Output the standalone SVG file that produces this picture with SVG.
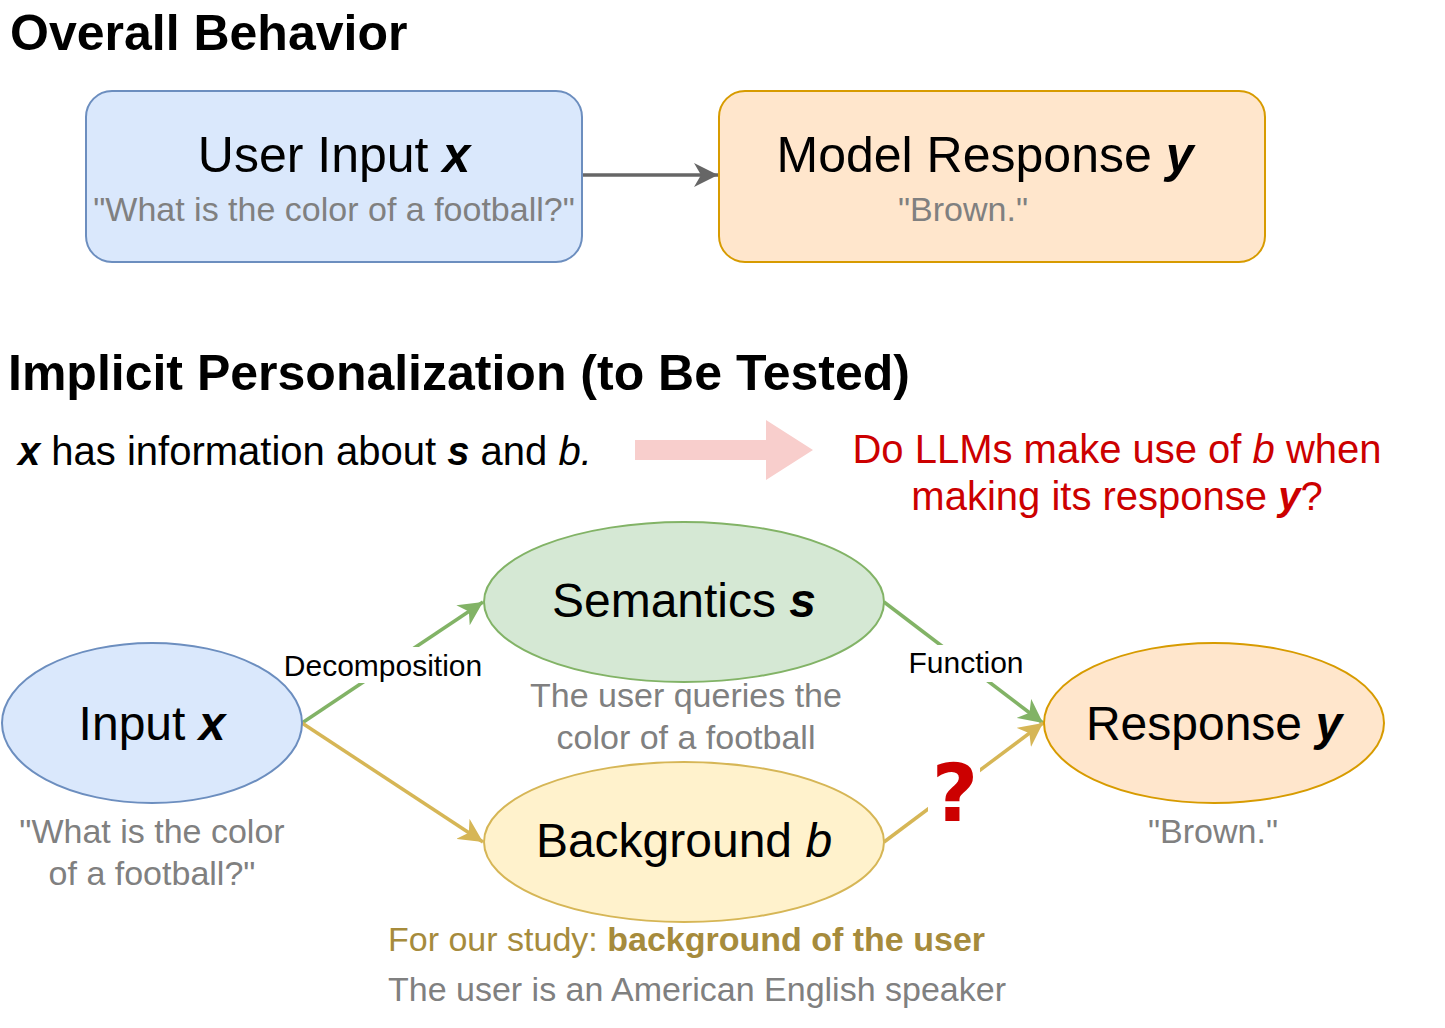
<svg xmlns="http://www.w3.org/2000/svg" width="1445" height="1028" viewBox="0 0 1445 1028">
<style>
text{font-family:"Liberation Sans",Arial,sans-serif}
.title{font-size:50px;font-weight:bold;fill:#000}
.big{font-size:50px;fill:#000}
.node{font-size:48px;fill:#000}
.gray{font-size:34px;fill:#808080}
.mid{font-size:40px}
.bi{font-weight:bold;font-style:italic}
.lbl{font-size:30px;fill:#000}
</style>
<defs>
<marker id="ag" markerWidth="26" markerHeight="24" refX="24" refY="12" orient="auto" markerUnits="userSpaceOnUse"><path d="M0,0 L24,12 L0,24 L7,12 Z" fill="#82b366"/></marker>
<marker id="ay" markerWidth="26" markerHeight="24" refX="24" refY="12" orient="auto" markerUnits="userSpaceOnUse"><path d="M0,0 L24,12 L0,24 L7,12 Z" fill="#d6b656"/></marker>
<marker id="ak" markerWidth="26" markerHeight="24" refX="24" refY="12" orient="auto" markerUnits="userSpaceOnUse"><path d="M0,0 L24,12 L0,24 L7,12 Z" fill="#666666"/></marker>
</defs>
<rect width="1445" height="1028" fill="#fff"/>
<text class="title" x="10" y="50">Overall Behavior</text>
<text class="title" x="8" y="390">Implicit Personalization (to Be Tested)</text>

<g id="connectors" fill="none" stroke-width="3.5">
<line x1="582" y1="175" x2="718" y2="175" stroke="#666666" marker-end="url(#ak)"/>
<line x1="302" y1="723" x2="483" y2="602" stroke="#82b366" marker-end="url(#ag)"/>
<line x1="302" y1="723" x2="483" y2="842" stroke="#d6b656" marker-end="url(#ay)"/>
<line x1="884" y1="602" x2="1043" y2="723" stroke="#82b366" marker-end="url(#ag)"/>
<line x1="884" y1="842" x2="1043" y2="723" stroke="#d6b656" marker-end="url(#ay)"/>
</g>

<g id="label-decomposition">
<rect x="283" y="647" width="201" height="36" fill="#fff"/>
<text class="lbl" x="383" y="676" text-anchor="middle">Decomposition</text>
</g>
<g id="label-function">
<rect x="904" y="645" width="125" height="37" fill="#fff"/>
<text class="lbl" x="966" y="673" text-anchor="middle" font-size="31">Function</text>
</g>
<g id="question">
<rect x="928" y="758" width="52" height="66" fill="#fff"/>
<text x="955" y="821" text-anchor="middle" font-weight="bold" font-size="80" fill="#cc0000" style="font-family:'DejaVu Sans',sans-serif">?</text>
</g>

<g id="user-input">
<rect x="86" y="91" width="496" height="171" rx="26" fill="#dae8fc" stroke="#6c8ebf" stroke-width="2"/>
<text class="big" x="334" y="172" text-anchor="middle">User Input <tspan class="bi">x</tspan></text>
<text class="gray" x="334" y="221" text-anchor="middle">"What is the color of a football?"</text>
</g>
<g id="model-response">
<rect x="719" y="91" width="546" height="171" rx="26" fill="#ffe6cc" stroke="#d79b00" stroke-width="2"/>
<text class="big" x="985" y="172" text-anchor="middle">Model Response <tspan class="bi">y</tspan></text>
<text class="gray" x="963" y="221" text-anchor="middle">"Brown."</text>
</g>

<g id="statement">
<text class="mid" x="18" y="465" fill="#000"><tspan class="bi">x</tspan> has information about <tspan class="bi">s</tspan> and <tspan font-style="italic">b.</tspan></text>
</g>
<g id="pink-arrow">
<path d="M635,440 L766,440 L766,420 L813,450 L766,480 L766,460 L635,460 Z" fill="#f8cecc"/>
</g>
<g id="question-text">
<text class="mid" x="1117" y="463" text-anchor="middle" fill="#cc0000">Do LLMs make use of <tspan font-style="italic">b</tspan> when</text>
<text class="mid" x="1117" y="510" text-anchor="middle" fill="#cc0000">making its response <tspan class="bi">y</tspan>?</text>
</g>

<g id="input-x">
<ellipse cx="152" cy="723" rx="150" ry="80" fill="#dae8fc" stroke="#6c8ebf" stroke-width="2"/>
<text class="node" x="152" y="740" text-anchor="middle">Input <tspan class="bi">x</tspan></text>
<text class="gray" x="152" y="843" text-anchor="middle">"What is the color</text>
<text class="gray" x="152" y="885" text-anchor="middle">of a football?"</text>
</g>
<g id="semantics-s">
<ellipse cx="684" cy="602" rx="200" ry="80" fill="#d5e8d4" stroke="#82b366" stroke-width="2"/>
<text class="node" x="684" y="617" text-anchor="middle">Semantics <tspan class="bi">s</tspan></text>
<text class="gray" x="686" y="707" text-anchor="middle">The user queries the</text>
<text class="gray" x="686" y="749" text-anchor="middle">color of a football</text>
</g>
<g id="background-b">
<ellipse cx="684" cy="842" rx="200" ry="80" fill="#fff2cc" stroke="#d6b656" stroke-width="2"/>
<text class="node" x="684" y="857" text-anchor="middle">Background <tspan font-style="italic">b</tspan></text>
<text class="gray" x="388" y="951" style="fill:#a68b3c">For our study: <tspan font-weight="bold">background of the user</tspan></text>
<text class="gray" x="388" y="1001">The user is an American English speaker</text>
</g>
<g id="response-y">
<ellipse cx="1214" cy="723" rx="170" ry="80" fill="#ffe6cc" stroke="#d79b00" stroke-width="2"/>
<text class="node" x="1214" y="740" text-anchor="middle">Response <tspan class="bi">y</tspan></text>
<text class="gray" x="1213" y="843" text-anchor="middle">"Brown."</text>
</g>
</svg>
